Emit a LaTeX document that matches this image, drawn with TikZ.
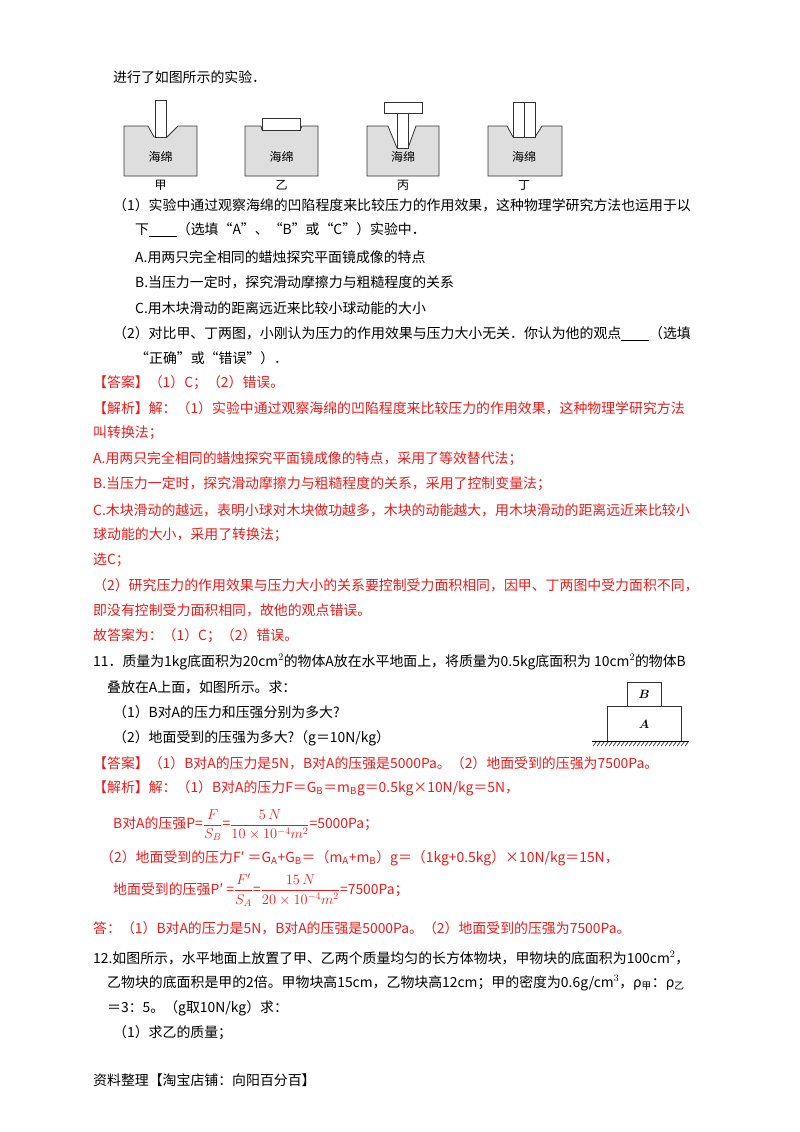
\documentclass[tikz,border=0pt]{standalone}
\usepackage{amsmath}
\usepackage{fontspec}
\setmainfont{Noto Sans CJK SC}
\definecolor{ans}{RGB}{232,28,28}
\definecolor{sp}{RGB}{222,222,222}
\begin{document}
\begin{tikzpicture}[x=1pt,y=-1pt,
 t/.style={anchor=west,inner sep=0pt,font=\fontsize{13.9}{14}\selectfont},
 r/.style={t,text=ans},
 sponge/.style={draw=black!80,fill=sp,line width=0.8pt},
 brick/.style={draw=black!80,fill=white,line width=0.8pt},
 lab/.style={inner sep=0pt,font=\fontsize{12}{12}\selectfont}]
\useasboundingbox (0,0) rectangle (800,1132);
\node[t] (l0) at (113,77) {进行了如图所示的实验．};
% sponges
\draw[sponge] (124,126)--(148,126)--(154,137)--(167,137)--(178,126)--(197,126)--(197,176)--(124,176)--cycle;
\draw[brick] (155,100) rectangle (166,137);
\node[lab] (s1) at (160.5,157) {海绵}; \node[lab] (c1) at (160.5,185) {甲};
\draw[sponge] (245,126)--(261,126)--(262,130)--(300,130)--(302,126)--(318,126)--(318,176)--(245,176)--cycle;
\draw[brick] (262,118) rectangle (300,130);
\node[lab] (s2) at (281.5,157) {海绵}; \node[lab] (c2) at (281.5,185) {乙};
\draw[sponge] (367,126)--(388,126)--(397,148)--(408,148)--(416,126)--(439,126)--(439,176)--(367,176)--cycle;
\draw[brick] (397,113) rectangle (408,148);
\draw[brick] (384,102) rectangle (422,113);
\node[lab] (s3) at (403,157) {海绵}; \node[lab] (c3) at (403,185) {丙};
\draw[sponge] (488,126)--(507,126)--(513,137)--(535,137)--(542,126)--(562,126)--(562,176)--(488,176)--cycle;
\draw[brick] (513,102) rectangle (524,137);
\draw[brick] (524,102) rectangle (535,137);
\node[lab] (s4) at (524,157) {海绵}; \node[lab] (c4) at (524,185) {丁};
% text
\node[t] (l1) at (113,205) {（1）实验中通过观察海绵的凹陷程度来比较压力的作用效果，这种物理学研究方法也运用于以};
\node[t] (l2) at (135,230) {下\underline{\hspace{2em}}（选填“A”、“B”或“C”）实验中．};
\node[t] (l3) at (135,257) {A.用两只完全相同的蜡烛探究平面镜成像的特点};
\node[t] (l4) at (135,282) {B.当压力一定时，探究滑动摩擦力与粗糙程度的关系};
\node[t] (l5) at (135,308) {C.用木块滑动的距离远近来比较小球动能的大小};
\node[t] (l6) at (113,334) {（2）对比甲、丁两图，小刚认为压力的作用效果与压力大小无关．你认为他的观点\underline{\hspace{2em}}（选填};
\node[t] (l7) at (135,358) {“正确”或“错误”）．};
\node[r] (a1) at (93,383) {【答案】（1）C；（2）错误。};
\node[r] (a2) at (93,408) {【解析】解：（1）实验中通过观察海绵的凹陷程度来比较压力的作用效果，这种物理学研究方法};
\node[r] (a3) at (93,433) {叫转换法；};
\node[r] (a4) at (93,459) {A.用两只完全相同的蜡烛探究平面镜成像的特点，采用了等效替代法；};
\node[r] (a5) at (93,484) {B.当压力一定时，探究滑动摩擦力与粗糙程度的关系，采用了控制变量法；};
\node[r] (a6) at (93,510) {C.木块滑动的越远，表明小球对木块做功越多，木块的动能越大，用木块滑动的距离远近来比较小};
\node[r] (a7) at (93,535) {球动能的大小，采用了转换法；};
\node[r] (a8) at (93,560) {选C；};
\node[r] (a9) at (93,585) {（2）研究压力的作用效果与压力大小的关系要控制受力面积相同，因甲、丁两图中受力面积不同，};
\node[r] (a10) at (93,610) {即没有控制受力面积相同，故他的观点错误。};
\node[r] (a11) at (93,636) {故答案为：（1）C；（2）错误。};
\node[t] (q1) at (93,662) {11．质量为1kg底面积为20cm$^2$的物体A放在水平地面上，将质量为0.5kg底面积为 10cm$^2$的物体B};
\node[t] (q2) at (107,687) {叠放在A上面，如图所示。求：};
\node[t] (q3) at (113,712) {（1）B对A的压力和压强分别为多大?};
\node[t] (q4) at (113,738) {（2）地面受到的压强为多大?（g＝10N/kg）};
% blocks
\draw[brick] (607,706) rectangle (681,741);
\draw[brick] (627,682) rectangle (661,706);
\node[lab] (bB) at (644,694) {$\boldsymbol{B}$};
\node[lab] (bA) at (644,724) {$\boldsymbol{A}$};
\draw[line width=0.8pt] (592,741)--(689,741);
\foreach \i in {0,...,23} \draw[line width=0.5pt] (593+4*\i,746)--(597+4*\i,741);
\node[r] (b1) at (93,763) {【答案】（1）B对A的压力是5N，B对A的压强是5000Pa。（2）地面受到的压强为7500Pa。};
\node[r] (b2) at (93,788) {【解析】解：（1）B对A的压力F＝G$_\mathrm{B}$＝m$_\mathrm{B}$g＝0.5kg×10N/kg＝5N，};
\node[r] (b3) at (113,825) {B对A的压强P=$\dfrac{F}{S_B}$=$\dfrac{5\,N}{10\times10^{-4}m^2}$=5000Pa；};
\node[r] (b4) at (100,858) {（2）地面受到的压力F′ ＝G$_\mathrm{A}$+G$_\mathrm{B}$＝（m$_\mathrm{A}$+m$_\mathrm{B}$）g＝（1kg+0.5kg）×10N/kg＝15N，};
\node[r] (b5) at (113,890) {地面受到的压强P′ =$\dfrac{F'}{S_A}$=$\dfrac{15\,N}{20\times10^{-4}m^2}$=7500Pa；};
\node[r] (b6) at (93,928) {答：（1）B对A的压力是5N，B对A的压强是5000Pa。（2）地面受到的压强为7500Pa。};
\node[t] (p1) at (93,958) {12.如图所示，水平地面上放置了甲、乙两个质量均匀的长方体物块，甲物块的底面积为100cm$^2$，};
\node[t] (p2) at (107,983) {乙物块的底面积是甲的2倍。甲物块高15cm，乙物块高12cm；甲的密度为0.6g/cm$^3$，ρ$_{\text{甲}}$：ρ$_{\text{乙}}$};
\node[t] (p3) at (107,1008) {＝3：5。（g取10N/kg）求：};
\node[t] (p4) at (113,1033) {（1）求乙的质量；};
\node[t] (p5) at (93,1080) {资料整理【淘宝店铺：向阳百分百】};
\end{tikzpicture}
\end{document}
